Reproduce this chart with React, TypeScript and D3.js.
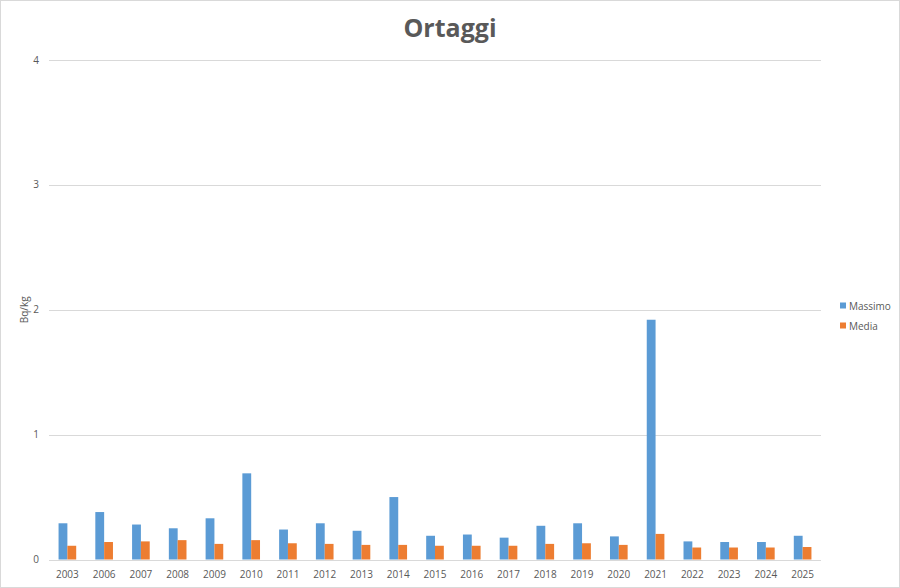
import * as d3 from 'd3';
import { useEffect, useRef } from 'react';

const years = ['2003', '2006', '2007', '2008', '2009', '2010', '2011', '2012', '2013', '2014', '2015',
    '2016', '2017', '2018', '2019', '2020', '2021', '2022', '2023', '2024', '2025'];
const massimo = [0.29, 0.38, 0.28, 0.25, 0.33, 0.69, 0.24, 0.29, 0.23, 0.5, 0.19,
    0.2, 0.175, 0.27, 0.29, 0.185, 1.92, 0.145, 0.14, 0.14, 0.19];
const media = [0.11, 0.14, 0.145, 0.155, 0.125, 0.155, 0.13, 0.125, 0.117, 0.117, 0.11,
    0.11, 0.11, 0.125, 0.13, 0.117, 0.205, 0.096, 0.096, 0.096, 0.1];
const seriesNames = ['Massimo', 'Media'];
const colors = ['#5B9BD5', '#ED7D31'];
const yTicks = [0, 1, 2, 3, 4];

export default function App() {
    const chartRef = useRef(null);

    useEffect(() => {
        const width = 900;
        const height = 588;
        const plot = { left: 49, right: 821, top: 60, bottom: 559.5 };
        const font = "'Open Sans', 'Noto Sans', sans-serif";
        const textColor = '#595959';

        const rows = years.map((y, i) => ({ year: y, values: [massimo[i], media[i]] }));

        const xScale = d3.scaleBand()
            .domain(years)
            .range([plot.left, plot.right])
            .paddingInner(0.52)
            .paddingOuter(0.26);

        const xInner = d3.scaleBand()
            .domain(seriesNames)
            .range([0, xScale.bandwidth()]);

        const yScale = d3.scaleLinear()
            .domain([0, 4])
            .range([plot.bottom, plot.top]);

        const svg = d3.select(chartRef.current)
            .append('svg')
            .attr('width', width)
            .attr('height', height)
            .style('position', 'absolute')
            .style('left', '0px')
            .style('top', '0px')
            .style('background', '#fff');

        // outer border
        svg.append('rect')
            .attr('x', 0.5).attr('y', 0.5)
            .attr('width', width - 1).attr('height', height - 1)
            .attr('fill', '#fff')
            .attr('stroke', '#d9d9d9');

        // gridlines
        svg.append('g')
            .selectAll('line')
            .data(yTicks)
            .join('line')
            .attr('x1', plot.left)
            .attr('x2', plot.right)
            .attr('y1', (d) => Math.round(yScale(d)) + 0.5)
            .attr('y2', (d) => Math.round(yScale(d)) + 0.5)
            .attr('stroke', '#d9d9d9')
            .attr('stroke-width', 1);

        // y tick labels
        svg.append('g')
            .selectAll('text')
            .data(yTicks)
            .join('text')
            .attr('x', 39)
            .attr('y', (d) => yScale(d))
            .attr('dy', '0.35em')
            .attr('text-anchor', 'end')
            .style('font-family', font)
            .style('font-size', '10px')
            .style('fill', textColor)
            .text((d) => d);

        // bars
        const groups = svg.append('g')
            .selectAll('g')
            .data(rows)
            .join('g')
            .attr('transform', (d) => `translate(${xScale(d.year)},0)`);

        groups.selectAll('rect')
            .data((d) => d.values.map((v, i) => ({ key: seriesNames[i], value: v, color: colors[i] })))
            .join('rect')
            .attr('x', (d) => xInner(d.key))
            .attr('width', xInner.bandwidth())
            .attr('y', (d) => yScale(d.value))
            .attr('height', (d) => yScale(0) - yScale(d.value))
            .attr('fill', (d) => d.color);

        // x labels
        svg.append('g')
            .selectAll('text')
            .data(years)
            .join('text')
            .attr('x', (d) => xScale(d) + xScale.bandwidth() / 2)
            .attr('y', 578)
            .attr('text-anchor', 'middle')
            .style('font-family', font)
            .style('font-size', '10px')
            .style('fill', textColor)
            .text((d) => d);

        // title
        svg.append('text')
            .attr('x', 450)
            .attr('y', 37)
            .attr('text-anchor', 'middle')
            .style('font-family', font)
            .style('font-size', '25px')
            .style('font-weight', 'bold')
            .style('fill', textColor)
            .text('Ortaggi');

        // y axis title
        svg.append('text')
            .attr('transform', `translate(28,${(plot.top + plot.bottom) / 2 + 0}) rotate(-90)`)
            .attr('text-anchor', 'middle')
            .style('font-family', font)
            .style('font-size', '10px')
            .style('fill', textColor)
            .text('Bq/kg');

        // legend
        const legend = svg.append('g')
            .selectAll('g')
            .data(seriesNames)
            .join('g')
            .attr('transform', (d, i) => `translate(840,${306 + i * 20})`);

        legend.append('rect')
            .attr('x', 0).attr('y', -3.5)
            .attr('width', 6).attr('height', 6)
            .attr('fill', (d, i) => colors[i]);

        legend.append('text')
            .attr('x', 9)
            .attr('y', 0)
            .attr('dy', '0.35em')
            .style('font-family', font)
            .style('font-size', '10px')
            .style('fill', textColor)
            .text((d) => d);

        return () => {
            d3.select(chartRef.current).selectAll('*').remove();
        };
    }, []);

    return <div ref={chartRef}></div>;
}
